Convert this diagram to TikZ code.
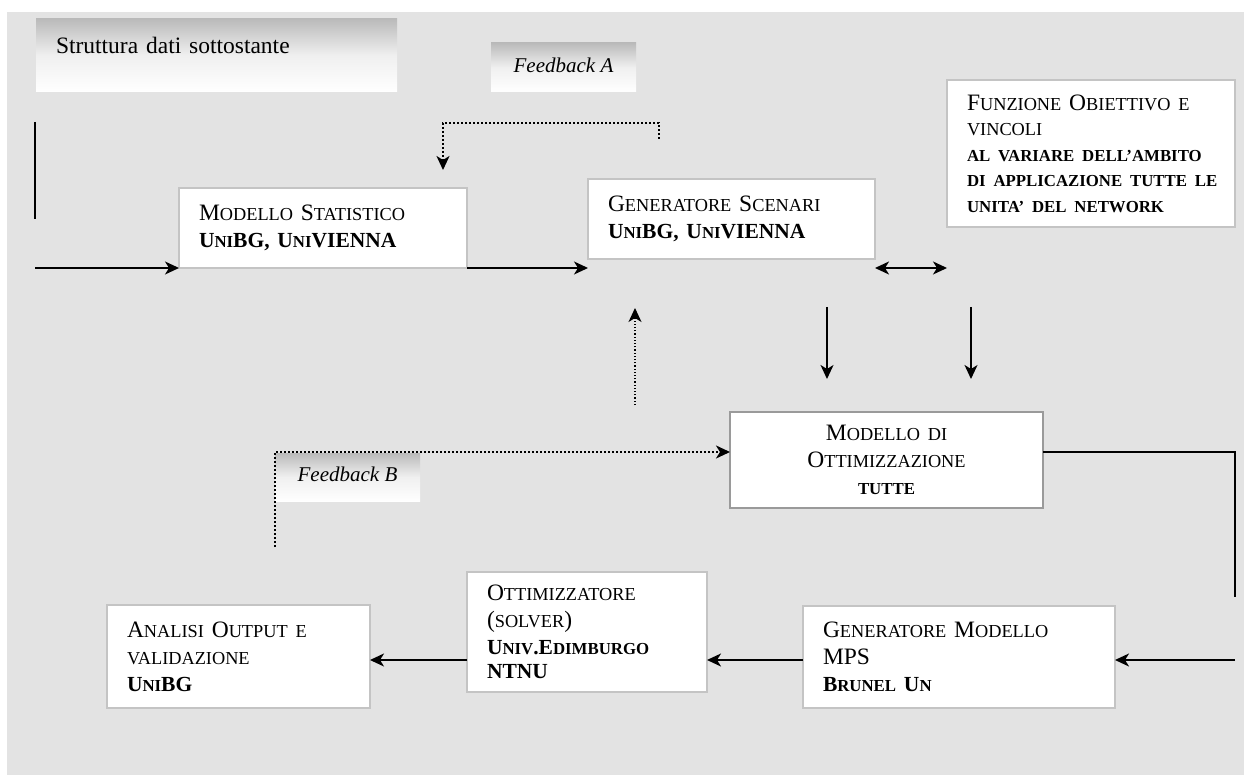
\documentclass[tikz,border=0pt]{standalone}
\usepackage{fontspec}
\setmainfont{Liberation Serif}
\usetikzlibrary{arrows.meta}

\definecolor{bggray}{HTML}{E3E3E3}
\definecolor{boxline}{HTML}{C4C4C4}
\definecolor{darkline}{HTML}{9A9A9A}

% fake small caps as in the original
\newcommand{\fsc}[1]{{\fontsize{18.3}{27}\selectfont #1}}
\newcommand{\bsc}[1]{{\fontsize{16.8}{27}\selectfont\bfseries #1}}
\newcommand{\bld}[1]{{\fontsize{21.5}{27}\selectfont\bfseries #1}}

\begin{document}
\begin{tikzpicture}[
        x=1pt, y=-1pt,
        font=\fontsize{23.5}{27}\selectfont,
        >={Stealth[length=14pt, width=13pt, inset=4pt]},
        block/.style={draw=boxline, line width=1.5pt, fill=white, anchor=north west, align=left, inner xsep=20pt, inner ysep=0pt, outer sep=0pt},
        tag/.style={anchor=north west, top color=black!27, bottom color=white, middle color=black!6, inner sep=0pt, outer sep=0pt},
        flow/.style={->, line width=1.6pt},
        wire/.style={line width=1.8pt},
        fback/.style={->, line width=2pt, dash pattern=on 2pt off 2pt},
        fthin/.style={->, line width=1.2pt, dash pattern=on 1.2pt off 2pt}
    ]
    \useasboundingbox (0,0) rectangle (1244,775);
    \fill[bggray] (7,12) rectangle (1244,775);

    % Labels with shading
    \node[tag, minimum width=361pt, minimum height=73pt, text width=321pt, inner xsep=20pt, align=left, text depth=21pt] (struct) at (36,19) {Struttura dati sottostante};
    \node[tag, minimum width=145pt, minimum height=49pt, font=\itshape\fontsize{21}{24}\selectfont, text depth=5pt] (fbA) at (491,43) {Feedback A};
    \node[tag, minimum width=145pt, minimum height=48pt, font=\itshape\fontsize{21}{24}\selectfont, text depth=6pt] (fbB) at (275,453) {Feedback B};

    % Upper row
    \node[block, minimum width=288pt, minimum height=80pt, text width=248pt] (stat) at (179,188)
        {M\fsc{ODELLO} S\fsc{TATISTICO}\\ \bld{U\bsc{NI}BG, U\bsc{NI}VIENNA}};
    \node[block, minimum width=287pt, minimum height=80pt, text width=247pt] (scen) at (588,179)
        {G\fsc{ENERATORE} S\fsc{CENARI}\\ \bld{U\bsc{NI}BG, U\bsc{NI}VIENNA}};
    \node[block, minimum width=288pt, minimum height=147pt, text width=248pt, font=\fontsize{23.5}{25.5}\selectfont] (funz) at (947,80)
        {F\fsc{UNZIONE} O\fsc{BIETTIVO E}\\ \fsc{VINCOLI}\\ \bsc{\mbox{AL VARIARE DELL’AMBITO}}\\ \bsc{\mbox{DI APPLICAZIONE TUTTE LE}}\\ \bsc{\mbox{UNITA’ DEL NETWORK}}};

    % Middle
    \node[block, draw=darkline, line width=2.5pt, minimum width=313pt, minimum height=96pt, text width=273pt, align=center] (ottim) at (730,412)
        {M\fsc{ODELLO DI}\\ O\fsc{TTIMIZZAZIONE}\\ \bsc{TUTTE}};

    % Bottom row
    \node[block, minimum width=312pt, minimum height=102pt, text width=272pt] (mps) at (803,606)
        {G\fsc{ENERATORE} M\fsc{ODELLO}\\ MPS\\ \bld{B\bsc{RUNEL} U\bsc{N}}};
    \node[block, minimum width=240pt, minimum height=120pt, text width=200pt] (solv) at (467,572)
        {O\fsc{TTIMIZZATORE}\\ (\fsc{SOLVER})\\ \bld{U\bsc{NIV}.E\bsc{DIMBURGO}}\\[-3pt] \bld{NTNU}};
    \node[block, minimum width=263pt, minimum height=103pt, text width=223pt] (anal) at (107,605)
        {A\fsc{NALISI} O\fsc{UTPUT E}\\ \fsc{VALIDAZIONE}\\ \bld{U\bsc{NI}BG}};

    % Free ends
    \coordinate (inTop) at (35,122);
    \coordinate (inMid) at (35,219);
    \coordinate (inLeft) at (35,268);
    \coordinate (dnA) at (827,307);
    \coordinate (dnAe) at (827,379);
    \coordinate (dnB) at (971,307);
    \coordinate (dnBe) at (971,379);
    \coordinate (upS) at (635,405);
    \coordinate (upE) at (635,308);
    \coordinate (faS) at (659,139);
    \coordinate (faE) at (443,170);
    \coordinate (fbS) at (275,547);
    \coordinate (rBot) at (1235,597);
    \coordinate (rIn) at (1235,660);

    % Upper flow
    \draw[wire] (inTop) -- (inMid);
    \draw[flow] (inLeft) -- (inLeft -| stat.west);
    \draw[flow] (inLeft -| stat.east) -- (inLeft -| scen.west);
    \draw[flow, <->] (inLeft -| scen.east) -- (inLeft -| funz.west);
    \draw[flow] (dnA) -- (dnAe);
    \draw[flow] (dnB) -- (dnBe);

    % Feedbacks
    \draw[fback] (faS) -- ++(0,-16) -| (faE);
    \draw[fthin] (upS) -- (upE);
    \draw[fback] (fbS) |- ([yshift=8pt]ottim.west);

    % Lower flow
    \draw[wire] ([yshift=8pt]ottim.east) -| (rBot);
    \draw[flow] (rIn) -- (rIn -| mps.east);
    \draw[flow] (rIn -| mps.west) -- (rIn -| solv.east);
    \draw[flow] (rIn -| solv.west) -- (rIn -| anal.east);

\end{tikzpicture}
\end{document}
